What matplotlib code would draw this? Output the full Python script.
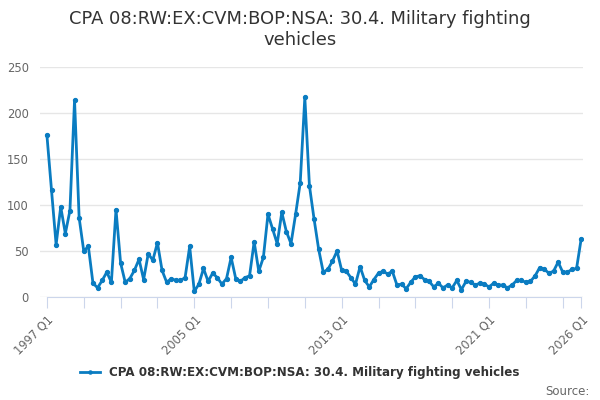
import matplotlib
matplotlib.use("Agg")
import matplotlib.pyplot as plt

# Quarterly values, 1997 Q1 .. 2026 Q1
years = list(range(1997, 2027))
values = [
    176, 116, 57, 98, 69, 94, 214, 86, 50, 55, 15, 10, 18, 27, 16, 95,
    37, 16, 20, 29, 41, 19, 47, 40, 59, 29, 16, 20, 18, 18, 21, 55,
    6, 14, 31, 17, 26, 21, 14, 20, 43, 20, 17, 21, 23, 60, 28, 43,
    90, 74, 58, 92, 71, 58, 90, 124, 217, 121, 85, 52, 27, 30, 39, 50,
    29, 28, 21, 14, 33, 18, 11, 19, 26, 28, 25, 28, 13, 14, 9, 16,
    22, 23, 19, 17, 11, 15, 10, 13, 10, 18, 8, 17, 16, 13, 15, 14,
    11, 15, 13, 13, 10, 13, 18, 18, 16, 17, 23, 32, 30, 26, 28, 38,
    27, 27, 30, 31, 63,
]
quarters = [f"{y} Q{q}" for y in years for q in range(1, 5)][:len(values)]
label_quarters = ["1997 Q1", "2005 Q1", "2013 Q1", "2021 Q1", "2026 Q1"]
series_name = "CPA 08:RW:EX:CVM:BOP:NSA: 30.4. Military fighting vehicles"

x = list(range(len(values)))
line_color = "#0a7cc1"

fig = plt.figure(figsize=(6, 4), dpi=100)
ax = fig.add_axes([40 / 600, 1 - 297 / 400, 543 / 600, 230 / 400])

ax.plot(x, values, color=line_color, linewidth=2, marker="o", markersize=2.8,
        label=series_name)

ax.set_xlim(-1.5, len(values) - 0.6)
ax.set_ylim(0, 250)
ax.set_yticks([0, 50, 100, 150, 200, 250])
ax.grid(axis="y", color="#e6e6e6", linewidth=1)
ax.set_axisbelow(True)

# ticks every two years, labels every eight years plus the last quarter
tick_pos = [i for i, q in enumerate(quarters) if q.endswith("Q1") and (int(q[:4]) - 1997) % 2 == 0]
tick_pos.append(len(values) - 1)
ax.set_xticks(tick_pos)
ax.set_xticklabels([quarters[i] if quarters[i] in label_quarters else "" for i in tick_pos],
                   rotation=45, ha="right", rotation_mode="anchor")

for side in ["top", "right", "left"]:
    ax.spines[side].set_visible(False)
ax.spines["bottom"].set_color("#ccd6eb")
ax.spines["bottom"].set_bounds(0, len(values) - 1)
ax.tick_params(axis="x", colors="#ccd6eb", length=8, labelcolor="#666666", labelsize=8.3)
ax.tick_params(axis="y", length=0, labelcolor="#666666", labelsize=8.3, pad=8)

fig.suptitle("CPA 08:RW:EX:CVM:BOP:NSA: 30.4. Military fighting\nvehicles",
             y=0.975, fontsize=12.9, color="#333333")

leg = fig.legend(loc="center", bbox_to_anchor=(0.5, 0.068), frameon=False,
                 prop={"weight": "bold", "size": 8.6}, handlelength=1.6, markerscale=0.8)
for t in leg.get_texts():
    t.set_color("#333333")

fig.text(0.982, 0.022, "Source:", ha="right", va="center", fontsize=8.5, color="#666666")

fig.savefig("out.png", dpi=100)
